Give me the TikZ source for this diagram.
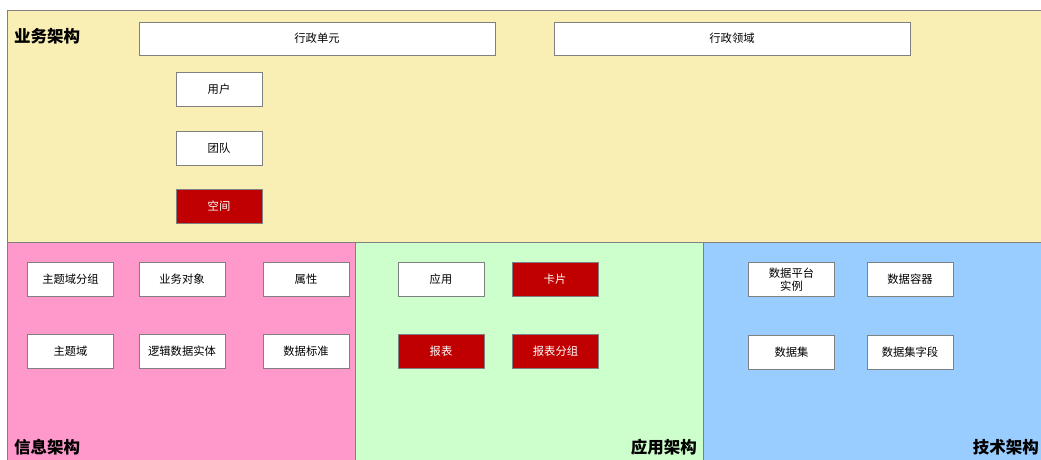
\documentclass[tikz,border=0pt]{standalone}
\usepackage{fontspec}
\setmainfont{Noto Sans CJK SC}
\newfontfamily\cjk{Noto Sans CJK SC}
\definecolor{ybg}{HTML}{F9EEB4}
\definecolor{pbg}{HTML}{FF99CC}
\definecolor{gbg}{HTML}{CCFFCC}
\definecolor{bbg}{HTML}{99CCFF}
\definecolor{redb}{HTML}{C00000}
\definecolor{edge}{HTML}{808080}
\begin{document}
\begin{tikzpicture}[x=1pt,y=-1pt,
  panel/.style={draw=edge,line width=0.8pt},
  box/.style={draw=edge,line width=0.8pt,fill=white,minimum width=86pt,minimum height=34pt,inner sep=0pt,font=\cjk\fontsize{11.3}{13}\selectfont,align=center},
  redbox/.style={box,fill=redb,text=white},
  title/.style={font=\cjk\bfseries\fontsize{16.5}{19}\selectfont,inner sep=0pt}]
\useasboundingbox (0,0) rectangle (1041,459);
\clip (0,0) rectangle (1041,459);
\fill[white] (0,0) rectangle (1041,459);
\draw[panel,fill=ybg] (7.5,10.5) rectangle (1060,242);
\draw[panel,fill=pbg] (7.5,242) rectangle (355,470);
\draw[panel,fill=gbg] (355,242) rectangle (703,470);
\draw[panel,fill=bbg] (703,242) rectangle (1060,470);
\node[title,anchor=west] (t1) at (14,36) {业务架构};
\node[title,anchor=west] (t2) at (14,447) {信息架构};
\node[title,anchor=east] (t3) at (697,447) {应用架构};
\node[title,anchor=east] (t4) at (1039,447) {技术架构};
\node[box,minimum width=356pt,minimum height=33pt] (xzdy) at (317,38.5) {行政单元};
\node[box,minimum width=356pt,minimum height=33pt] (xzly) at (732,38.5) {行政领域};
\node[box] (yh) at (219,89) {用户};
\node[box] (td) at (219,148) {团队};
\node[redbox] (kj) at (219,206.5) {空间};
\node[box] (ztyfz) at (70.5,279.5) {主题域分组};
\node[box] (ywdx) at (182,279.5) {业务对象};
\node[box] (sx) at (306,279.5) {属性};
\node[box] (zty) at (70.5,351.5) {主题域};
\node[box] (ljsjst) at (182,351.5) {逻辑数据实体};
\node[box] (sjbz) at (306,351.5) {数据标准};
\node[box] (yy) at (441,279.5) {应用};
\node[redbox] (kp) at (555,279.5) {卡片};
\node[redbox] (bb) at (441,351.5) {报表};
\node[redbox] (bbfz) at (555.5,351.5) {报表分组};
\node[box] (sjptsl) at (791.5,279.5) {数据平台\\实例};
\node[box] (sjrq) at (910,279.5) {数据容器};
\node[box] (sjj) at (791.5,352) {数据集};
\node[box] (sjjzd) at (910,352) {数据集字段};
\end{tikzpicture}
\end{document}
